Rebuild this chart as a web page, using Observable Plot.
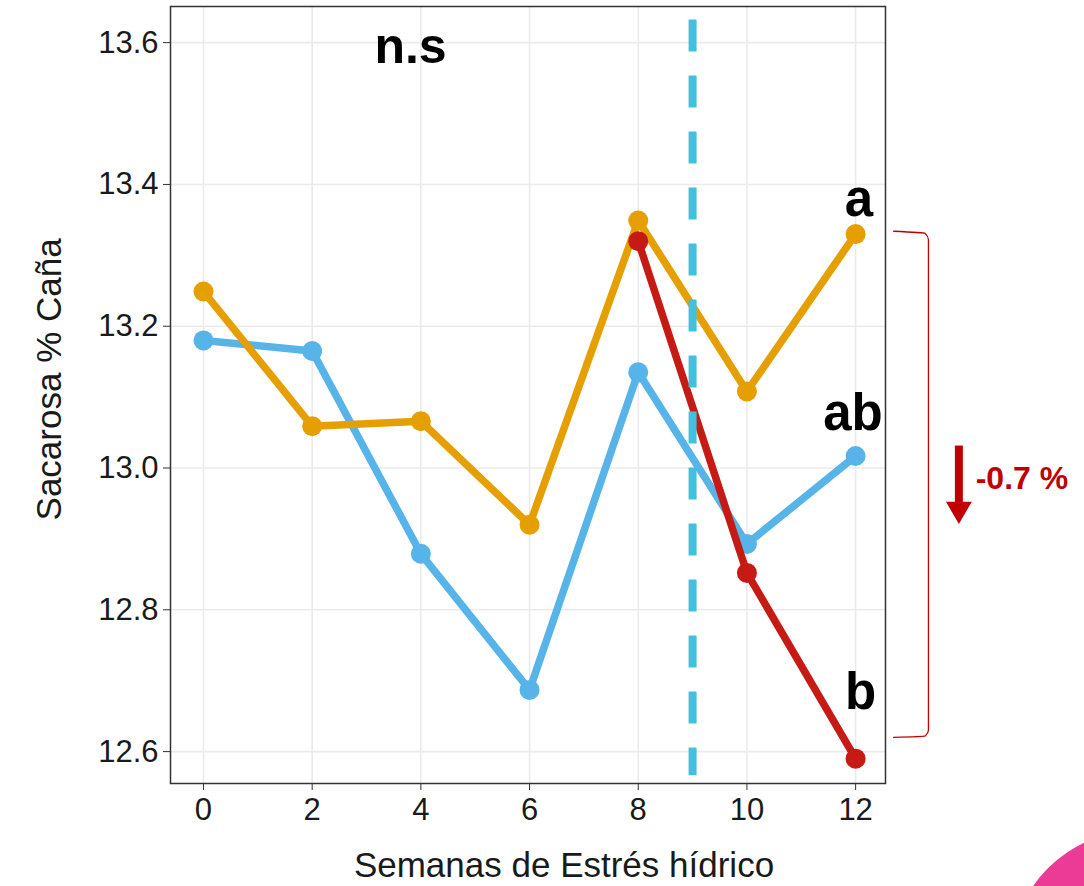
<!DOCTYPE html>
<html><head><meta charset="utf-8">
<script src="https://cdn.jsdelivr.net/npm/d3@7"></script>
<script src="https://cdn.jsdelivr.net/npm/@observablehq/plot@0.6"></script>
<style>
body{margin:0;background:#fff;overflow:hidden}
#chart{position:relative;width:1084px;height:886px;overflow:hidden}
#blob{position:absolute;left:1010px;top:830px;width:260px;height:260px;border-radius:50%;background:#EC3A97}
</style></head><body><div id="chart"><div id="blob"></div></div><script>
const weeks = [0, 2, 4, 6, 8, 10, 12];
const seriesOrange = [13.249, 13.059, 13.066, 12.920, 13.349, 13.108, 13.330];
const seriesBlue = [13.180, 13.165, 12.879, 12.687, 13.135, 12.893, 13.017];
const weeksRed = [8, 10, 12];
const seriesRed = [13.320, 12.852, 12.590];
const xTicks = [0, 2, 4, 6, 8, 10, 12];
const yTicks = [12.6, 12.8, 13.0, 13.2, 13.4, 13.6];
const groupLabels = ["a", "ab", "b"];
const groupLabelX = [12.06, 11.95, 12.09];
const groupLabelY = [13.379, 13.076, 12.683];
const stressWeek = 9;
const changeLabel = "-0.7 %";
const xTitle = "Semanas de Estrés hídrico";
const yTitle = "Sacarosa % Caña";

const orange = weeks.map((w, i) => ({x: w, y: seriesOrange[i]}));
const blue = weeks.map((w, i) => ({x: w, y: seriesBlue[i]}));
const red = weeksRed.map((w, i) => ({x: w, y: seriesRed[i]}));
const letters = groupLabels.map((t, i) => ({t, x: groupLabelX[i], y: groupLabelY[i]}));

const cO = "#E69F00", cB = "#56B4E9", cR = "#C51B14", cD = "#45C0DC", cA = "#C00000";
const bracket = [
  {x: 12.70, y: 13.334}, {x: 13.28, y: 13.331}, {x: 13.34, y: 13.322},
  {x: 13.34, y: 12.630}, {x: 13.28, y: 12.622}, {x: 12.70, y: 12.620}
];

const chart = Plot.plot({
  width: 1084, height: 886,
  marginLeft: 170, marginRight: 199, marginTop: 6, marginBottom: 103,
  style: {fontFamily: "'Liberation Sans', Arial, sans-serif", background: "transparent", overflow: "visible"},
  x: {domain: [-0.607, 12.55]},
  y: {domain: [12.555, 13.651]},
  marks: [
    Plot.ruleX(xTicks, {stroke: "#EBEBEB", strokeWidth: 1.6}),
    Plot.ruleY(yTicks, {stroke: "#EBEBEB", strokeWidth: 1.6}),
    Plot.axisX({ticks: xTicks, tickSize: 7, tickPadding: 7, fontSize: 31, label: null, color: "#1a1a1a", stroke: "#333"}),
    Plot.axisY({ticks: yTicks, tickSize: 7, tickPadding: 5, fontSize: 31, label: null, tickFormat: d3.format(".1f"), color: "#1a1a1a", stroke: "#333"}),
    Plot.line(blue, {x: "x", y: "y", stroke: cB, strokeWidth: 7.5}),
    Plot.dot(blue, {x: "x", y: "y", fill: cB, r: 10}),
    Plot.line(orange, {x: "x", y: "y", stroke: cO, strokeWidth: 7.5}),
    Plot.dot(orange, {x: "x", y: "y", fill: cO, r: 10}),
    Plot.line(red, {x: "x", y: "y", stroke: cR, strokeWidth: 7.5}),
    Plot.dot(red, {x: "x", y: "y", fill: cR, r: 10}),
    Plot.ruleX([stressWeek], {y1: 13.632, y2: 12.566, stroke: cD, strokeWidth: 8, strokeDasharray: "32 24"}),
    Plot.frame({stroke: "#333", strokeWidth: 1.5}),
    Plot.text(["n.s"], {x: 3.81, y: 13.594, fontSize: 50, fontWeight: "bold", fill: "#000"}),
    Plot.text(letters, {x: "x", y: "y", text: "t", fontSize: 51, fontWeight: "bold", fill: "#000"}),
    Plot.line(bracket, {x: "x", y: "y", stroke: cA, strokeWidth: 1.3, curve: "monotone-y"}),
    Plot.ruleX([13.9], {y1: 13.031, y2: 12.95, stroke: cA, strokeWidth: 8}),
    Plot.dot([13.9], {x: d => d, y: 12.942, symbol: "triangle", r: 9.6, fill: cA, rotate: 180, stroke: null}),
    Plot.text([changeLabel], {x: 14.21, y: 12.985, textAnchor: "start", fontSize: 32, fontWeight: "bold", fill: cA}),
    Plot.text([xTitle], {frameAnchor: "bottom", dx: 36, dy: 82, lineAnchor: "middle", fontSize: 35, fill: "#1a1a1a"}),
    Plot.text([yTitle], {x: -2.82, y: 13.125, rotate: -90, lineAnchor: "middle", fontSize: 35, fill: "#1a1a1a"})
  ]
});
chart.style.position = "absolute";
chart.style.left = "0px";
chart.style.top = "0px";
document.getElementById("chart").prepend(chart);
</script></body></html>
